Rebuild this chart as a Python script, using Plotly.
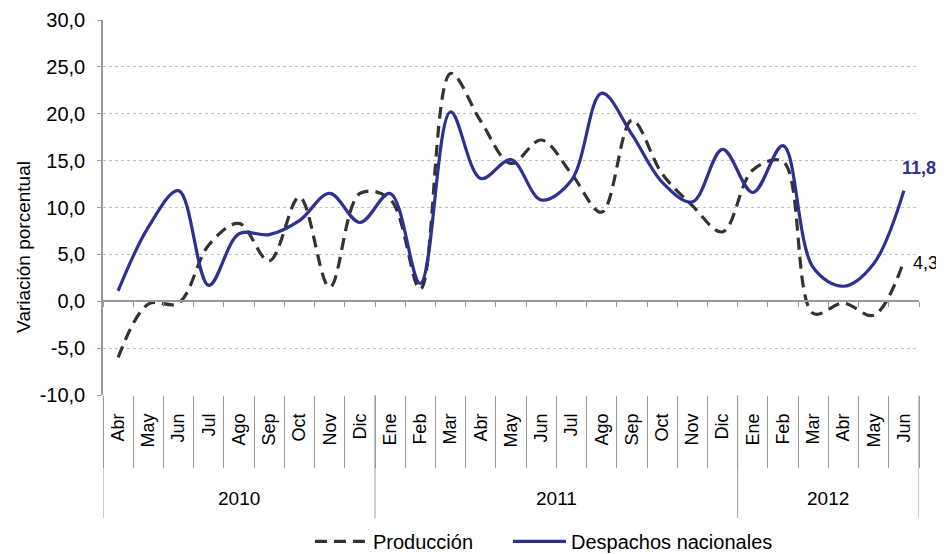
import plotly.graph_objects as go

# Meses (abril 2010 - junio 2012)
months = ["Abr", "May", "Jun", "Jul", "Ago", "Sep", "Oct", "Nov", "Dic",
          "Ene", "Feb", "Mar", "Abr", "May", "Jun", "Jul", "Ago", "Sep", "Oct", "Nov", "Dic",
          "Ene", "Feb", "Mar", "Abr", "May", "Jun"]
years = ["2010", "2011", "2012"]
months_per_year = [9, 12, 6]

produccion = [-6.0, -0.3, -0.2, 6.0, 8.3, 4.3, 11.1, 1.5, 11.5,
              10.9, 1.3, 24.3, 19.2, 14.7, 17.2, 13.6, 9.5, 19.3, 13.6, 10.2, 7.4,
              14.0, 14.9, -1.3, -0.2, -1.5, 4.3]
despachos = [1.1, 7.9, 11.8, 1.7, 7.2, 7.1, 8.6, 11.5, 8.4,
             11.5, 1.9, 20.2, 13.1, 15.1, 10.8, 12.9, 22.2, 17.8, 12.7, 10.6, 16.2,
             11.6, 16.6, 3.6, 1.6, 4.0, 11.8]

y_ticks = [-10, -5, 0, 5, 10, 15, 20, 25, 30]
y_labels = ["-10,0", "-5,0", "0,0", "5,0", "10,0", "15,0", "20,0", "25,0", "30,0"]

x = list(range(len(months)))
boundaries = [i - 0.5 for i in range(len(months) + 1)]

FONT = "Liberation Sans, Arial, sans-serif"
BLUE = "#2E3192"
GREY = "#333333"
AXIS = "#999999"

fig = go.Figure()

fig.add_trace(go.Scatter(
    x=x, y=produccion, name="Producción", mode="lines", legend="legend",
    line=dict(color=GREY, width=3.2, dash="12px,7px", shape="spline", smoothing=1),
))
fig.add_trace(go.Scatter(
    x=x, y=despachos, name="Despachos nacionales", mode="lines", legend="legend2",
    line=dict(color=BLUE, width=3.2, shape="spline", smoothing=1),
))
# invisible trace so the zero-line axis gets drawn
fig.add_trace(go.Scatter(x=[0], y=[0], xaxis="x2", mode="lines",
                         showlegend=False, hoverinfo="skip",
                         line=dict(color="rgba(0,0,0,0)")))

# year labels and dividers under the month labels
start = 0
for yr, n in zip(years, months_per_year):
    fig.add_annotation(x=start + (n - 1) / 2, y=-0.275, xref="x", yref="paper",
                       text=yr, showarrow=False, yanchor="middle",
                       font=dict(family=FONT, size=19, color="#000"))
    start += n
edges = [-0.5]
acc = -0.5
for n in months_per_year:
    acc += n
    edges.append(acc)
for e in edges:
    fig.add_shape(type="line", xref="x", yref="paper", x0=e, x1=e, y0=0, y1=-0.328,
                  line=dict(color=AXIS, width=1))

# y axis title
fig.add_annotation(x=-0.0968, y=0.395, xref="paper", yref="paper",
                   text="Variación porcentual", textangle=-90, showarrow=False,
                   xanchor="center", yanchor="middle",
                   font=dict(family=FONT, size=19, color="#000"))

# end labels
fig.add_annotation(x=x[-1], y=despachos[-1], xref="x", yref="y",
                   text="<b>11,8</b>", showarrow=False, xanchor="left",
                   xshift=-4, yshift=23,
                   font=dict(family=FONT, size=18, color=BLUE))
fig.add_annotation(x=x[-1], y=produccion[-1], xref="x", yref="y",
                   text="4,3", showarrow=False, xanchor="left",
                   xshift=7, yshift=-2,
                   font=dict(family=FONT, size=18, color="#000"))

legend_style = dict(orientation="h", xref="container", yref="container",
                    xanchor="left", y=0.023, yanchor="middle",
                    font=dict(family=FONT, size=20, color="#000"),
                    itemwidth=53, bgcolor="rgba(0,0,0,0)")

fig.update_layout(
    width=936, height=546,
    margin=dict(l=95, r=25, t=12, b=159),
    paper_bgcolor="white", plot_bgcolor="white",
    font=dict(family=FONT, size=19, color="#000"),
    showlegend=True,
    legend=dict(legend_style, x=0.3226),
    legend2=dict(legend_style, x=0.5342),
    xaxis=dict(
        range=[-0.5, len(months) - 0.5], automargin=False,
        tickmode="array", tickvals=x, ticktext=months, tickangle=-90,
        ticks="", showgrid=False, zeroline=False, showline=False,
        ticklabelstandoff=14,
        tickfont=dict(family=FONT, size=18, color="#000"),
        minor=dict(ticks="outside", tickmode="array", tickvals=boundaries,
                   ticklen=72, tickcolor=AXIS, tickwidth=1, showgrid=False),
    ),
    xaxis2=dict(
        overlaying="x", anchor="free", position=0.25,
        range=[-0.5, len(months) - 0.5],
        tickmode="array", tickvals=boundaries, ticks="outside", ticklen=5,
        tickcolor=AXIS, showticklabels=False, showgrid=False,
        zeroline=False, showline=True, linecolor=AXIS, linewidth=1.5,
    ),
    yaxis=dict(
        range=[-10, 30], automargin=False,
        tickmode="array", tickvals=y_ticks, ticktext=y_labels,
        showgrid=True, gridcolor="#c0c0c0", griddash="dot", gridwidth=1,
        zeroline=False, showline=True, linecolor=AXIS, linewidth=1.5,
        ticks="outside", ticklen=4, tickcolor=AXIS, ticklabelstandoff=8,
        tickfont=dict(family=FONT, size=20, color="#000"),
    ),
)

fig.write_html("out.html")
